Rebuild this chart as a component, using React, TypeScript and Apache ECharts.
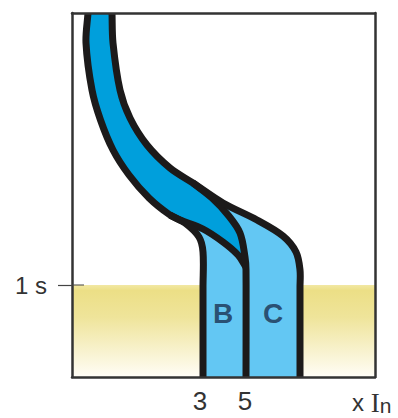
import React, { useEffect, useRef } from "react";
import * as echarts from "echarts";

const X_MAX = 303;
const Y_MAX = 364;

const outerLeft = [[16,364],[14,334],[20,287],[28.5,257],[41,227],[57,202],[77,179],[98,162],[113,154],[127,140],[131,125],[131,90],[131,0]];
const outerRight = [[40,364],[41,334],[48,287],[58,259],[75,232],[98,209],[121,194],[151,174],[185,157],[211,141],[224,125],[228,107],[228,90],[228,0]];
const upperBranch = [[121,194],[140,179],[156,162],[168,144],[173,120],[174,107],[174,0]];
const lowerBranch = [[98,162],[108,157],[131,148],[151,135],[166,122],[174,110]];

const darkBand = [...outerLeft.slice(0,8), ...lowerBranch, ...upperBranch.slice(0,5).reverse(), ...outerRight.slice(0,7).reverse()];
const lightB = [...outerLeft.slice(7), [174,0], ...lowerBranch.slice().reverse()];
const lightC = [...outerRight.slice(6), ...upperBranch.slice().reverse()];

const plateau = [[0,92],[303,92]];
const innerTick = [[0,92],[12,92]];
const xTicks = [128,173];
const xTickLabels = ["3","5"];
const yTicks = [92];
const yTickLabels = ["1 s"];
const zoneLabels = [{ name: "B", value: [151,64] }, { name: "C", value: [201,64] }];

const FONT = "Liberation Sans, Arial, sans-serif";
const INK = "#1c1a1a";
const DARK = "#009fdc";
const LIGHT = "#63c7f3";

const fill = (points: number[][], color: string, z: number) => ({
  type: "custom" as const,
  coordinateSystem: "cartesian2d",
  clip: true,
  z,
  silent: true,
  data: [0],
  renderItem: (_p: any, api: any) => ({
    type: "polygon",
    shape: { points: points.map((q) => api.coord(q)) },
    style: { fill: color, stroke: color, lineWidth: 1 },
  }),
});

// Smooth curve through the mapped points: tangents follow neighbouring points, handles a third of each chord.
const curvePath = (p: number[][]) => {
  const tangent = (i: number) => {
    const a = p[Math.max(i - 1, 0)];
    const b = p[Math.min(i + 1, p.length - 1)];
    const dx = b[0] - a[0];
    const dy = b[1] - a[1];
    const len = Math.hypot(dx, dy) || 1;
    return [dx / len, dy / len];
  };
  let d = `M${p[0][0]} ${p[0][1]}`;
  for (let i = 0; i < p.length - 1; i++) {
    const h = Math.hypot(p[i + 1][0] - p[i][0], p[i + 1][1] - p[i][1]) / 3;
    const t0 = tangent(i);
    const t1 = tangent(i + 1);
    d += `C${p[i][0] + t0[0] * h} ${p[i][1] + t0[1] * h} ${p[i + 1][0] - t1[0] * h} ${p[i + 1][1] - t1[1] * h} ${p[i + 1][0]} ${p[i + 1][1]}`;
  }
  return d;
};

const stroke = (points: number[][], z = 4) => ({
  type: "custom" as const,
  coordinateSystem: "cartesian2d",
  clip: true,
  z,
  silent: true,
  data: [0],
  renderItem: (_p: any, api: any) => ({
    type: "path",
    shape: { pathData: curvePath(points.map((q) => api.coord(q))) },
    style: { fill: "none", stroke: INK, lineWidth: 7, lineJoin: "round" },
  }),
});

export default function App() {
  const ref = useRef<HTMLDivElement>(null);
  useEffect(() => {
    const chart = echarts.init(ref.current!, null, { renderer: "svg" });
    const frame = { show: true, onZero: false, lineStyle: { color: "#333", width: 2.5 } };
    chart.setOption({
      animation: false,
      backgroundColor: "#fff",
      grid: { left: 72, top: 13, width: X_MAX, height: Y_MAX, show: false, outerBoundsMode: "none" },
      xAxis: [
        {
          type: "value", min: 0, max: X_MAX, position: "bottom", z: 6, splitLine: { show: false },
          axisLine: frame, axisTick: { show: false },
          axisLabel: {
            customValues: xTicks, margin: 11, fontSize: 26, color: "#333", fontFamily: FONT,
            formatter: (v: number) => xTickLabels[xTicks.indexOf(v)] ?? "",
          },
          name: "x {i|I}{n|n}", nameLocation: "end", nameGap: -23,
          nameTextStyle: {
            fontSize: 24, color: "#333", fontFamily: FONT, verticalAlign: "top", padding: [12, 0, 0, 0],
            rich: {
              i: { fontFamily: "Liberation Serif, serif", fontSize: 27, color: "#333" },
              n: { fontFamily: FONT, fontSize: 21, color: "#333", verticalAlign: "bottom", padding: [6, 0, 0, 0] },
            },
          },
        },
        {
          type: "value", min: 0, max: X_MAX, position: "top", z: 6, splitLine: { show: false },
          axisLine: frame, axisTick: { show: false }, axisLabel: { show: false },
        },
      ],
      yAxis: [
        {
          type: "value", min: 0, max: Y_MAX, position: "left", z: 6, splitLine: { show: false },
          axisLine: frame,
          axisTick: { show: true, customValues: yTicks, length: 14, lineStyle: { color: "#444", width: 1.2 } },
          axisLabel: {
            customValues: yTicks, margin: 25, fontSize: 24, color: "#333", fontFamily: FONT,
            formatter: (v: number) => yTickLabels[yTicks.indexOf(v)] ?? "",
          },
        },
        {
          type: "value", min: 0, max: Y_MAX, position: "right", z: 6, splitLine: { show: false },
          axisLine: frame, axisTick: { show: false }, axisLabel: { show: false },
        },
      ],
      series: [
        {
          type: "line", data: plateau, symbol: "none", z: 1, silent: true, lineStyle: { width: 0 },
          areaStyle: {
            origin: "start", opacity: 1,
            color: new echarts.graphic.LinearGradient(0, 0, 0, 1, [
              { offset: 0, color: "#f2e8a4" },
              { offset: 0.06, color: "#ecdf86" },
              { offset: 0.35, color: "#efe49a" },
              { offset: 1, color: "#fffdf6" },
            ]),
          },
        },
        { type: "line", data: innerTick, symbol: "none", z: 7, silent: true, lineStyle: { color: "#444", width: 1.2 } },
        fill(lightB, LIGHT, 2),
        fill(lightC, LIGHT, 2),
        fill(darkBand, DARK, 3),
        stroke(lowerBranch),
        stroke(upperBranch),
        stroke(outerRight),
        stroke(outerLeft),
        {
          type: "scatter", data: zoneLabels, symbolSize: 0, z: 8, silent: true,
          label: {
            show: true, position: "inside", formatter: "{b}", fontSize: 28, fontWeight: "bold",
            color: "#1b3050", fontFamily: FONT,
          },
        },
      ],
    });
    return () => chart.dispose();
  }, []);
  return <div ref={ref} style={{ position: "absolute", left: 0, top: 0, width: 398, height: 418 }} />;
}
